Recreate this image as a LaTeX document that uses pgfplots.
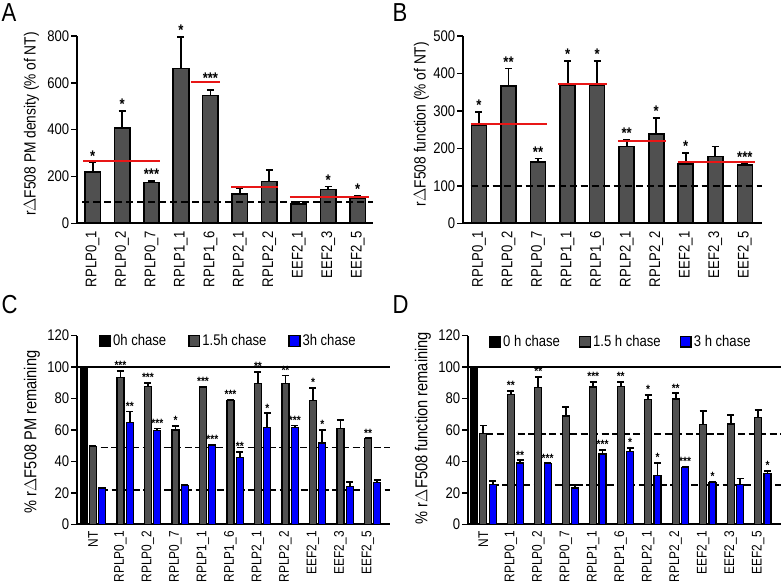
\documentclass[border=0pt]{standalone}
\usepackage{fontspec}
\setmainfont{Liberation Sans}[FakeStretch=0.85]
\usepackage{pgfplots}
\pgfplotsset{compat=1.18}
\usepackage{pgfplotstable}

\definecolor{barg}{RGB}{80,80,80}
\definecolor{barb}{RGB}{0,0,255}
\definecolor{redl}{RGB}{232,22,22}
\newcommand\fs{\fontsize{15.4bp}{18bp}\selectfont}
\newcommand\fsx{\fontsize{14bp}{16bp}\selectfont}
\newcommand\labA{\fontsize{16.2bp}{19bp}\selectfont}
\newcommand\labC{\fontsize{17.2bp}{20bp}\selectfont}
\newcommand\starA{\fontsize{15.4bp}{18bp}\selectfont\bfseries}
\newcommand\starC{\fontsize{12bp}{14bp}\selectfont\bfseries}

% Panel A
\pgfplotstableread{
x y e
0 218 42
1 408 72
2 175 7
3 662 134
4 545 24
5 125 25
6 179 49
7 83 10
8 145 12
9 107 11
}\dataA
\pgfplotstableread{
x y s
0 260 *
1 480 *
2 182 ***
3 796 *
4 592 ***
8 157 *
9 118 *
}\starsA
% Panel B
\pgfplotstableread{
x y e
0 262 35
1 367 46
2 163 10
3 368 65
4 369 64
5 205 17
6 239 43
7 158 30
8 178 27
9 156 4
}\dataB
\pgfplotstableread{
x y s
0 297 *
1 413 **
2 173 **
3 433 *
4 433 *
5 222 **
6 282 *
7 188 *
9 160 ***
}\starsB
% Panel C
\pgfplotstableread{
x y e
-0.34 100 0
}\blackC
\pgfplotstableread{
x y e
0 49.6 0.3
1 93.6 3.9
2 87.5 2.3
3 60.0 2.5
4 87.3 0.4
5 78.6 0.4
6 89.4 7.6
7 89.4 5.3
8 78.8 8.1
9 61.0 5.3
10 54.4 0.3
}\grayC
\pgfplotstableread{
x y e
0.34 23.1 0.3
1.34 64.6 7.2
2.34 59.7 1.3
3.34 24.8 0.4
4.34 50.4 0.4
5.34 42.4 3.8
6.34 61.7 8.9
7.34 61.4 1.5
8.34 51.7 8.3
9.34 23.9 3.0
10.34 26.5 1.5
}\blueC
\pgfplotstableread{
x y s
1 97.5 ***
2 89.8 ***
3 62.5 *
4 87.7 ***
5 79.0 ***
6 97.0 **
7 94.7 **
8 86.9 *
10 54.7 **
1.34 71.8 **
2.34 61.0 ***
4.34 50.8 ***
5.34 46.2 **
6.34 70.6 *
7.34 62.9 ***
8.34 60.0 *
}\starsC
% Panel D
\pgfplotstableread{
x y e
-0.34 100 0
}\blackD
\pgfplotstableread{
x y e
0 57.6 5.3
1 82.4 2.6
2 87.1 6.5
3 68.9 5.5
4 87.3 3.4
5 87.9 2.6
6 79.2 3.2
7 79.7 3.6
8 63.3 8.7
9 63.8 5.9
10 68.0 4.9
}\grayD
\pgfplotstableread{
x y e
0.34 25.4 1.9
1.34 39.0 1.7
2.34 38.6 0.2
3.34 23.1 2.1
4.34 44.7 2.5
5.34 46.2 2.3
6.34 30.9 8.1
7.34 36.2 0.5
8.34 26.5 0.4
9.34 25.2 4.0
10.34 32.4 1.5
}\blueD
\pgfplotstableread{
x y s
1 85.0 **
2 93.6 **
4 90.7 ***
5 90.5 **
6 82.4 *
7 83.3 **
1.34 40.7 **
2.34 38.8 ***
4.34 47.2 ***
5.34 48.5 *
6.34 39.0 *
7.34 36.7 ***
8.34 26.9 *
10.34 33.9 *
}\starsD

\pgfplotsset{
  panel/.style={
    scale only axis, axis x line*=bottom, axis y line*=left,
    axis line style={line width=1.8bp, -, black},
    tick align=outside, major tick length=6bp,
    ytick style={line width=1.5bp, black},
    xtick style={draw=none},
    tick label style={font=\fs},
    /pgf/number format/assume math mode=true,
    xticklabel style={rotate=90, anchor=east, inner sep=1.5bp},
    yticklabel style={inner sep=2bp},
    ymin=0, clip=false,
  },
  bars/.style={ybar, bar width=#1, bar shift=0pt, draw=black, line width=1.6bp},
  errs/.style={error bars/.cd, y dir=plus, y explicit,
    error bar style={line width=1.8bp, black},
    error mark options={rotate=90, mark size=3.5bp, line width=1.8bp, black}},
  sq/.style={legend image code/.code={\draw[##1, line width=1.4bp, draw=black] (0bp,-5.3bp) rectangle (10.7bp,5.3bp);}},
}

\begin{document}
\begin{tikzpicture}
\useasboundingbox (0,0) rectangle (782bp,586bp);
\node[font=\fontsize{26bp}{30bp}\selectfont, anchor=north west, inner sep=0pt] at (1.5bp,583bp) {A};
\node[font=\fontsize{26bp}{30bp}\selectfont, anchor=north west, inner sep=0pt] at (392.5bp,583bp) {B};
\node[font=\fontsize{26bp}{30bp}\selectfont, anchor=north west, inner sep=0pt] at (1.5bp,291bp) {C};
\node[font=\fontsize{26bp}{30bp}\selectfont, anchor=north west, inner sep=0pt] at (392.5bp,291bp) {D};

% ---------- A ----------
\begin{axis}[panel, at={(77.3bp,362.7bp)}, anchor=south west,
  width=295.7bp, height=187.3bp,
  xmin=-0.52, xmax=9.52, ymax=800, ytick={0,200,...,800},
  xtick={0,...,9},
  xticklabels={RPLP0\_1,RPLP0\_2,RPLP0\_7,RPLP1\_1,RPLP1\_6,RPLP2\_1,RPLP2\_2,EEF2\_1,EEF2\_3,EEF2\_5},
  ylabel={r$\Delta$F508 PM density (\% of NT)},
  ylabel style={font=\labA, at={(axis description cs:-0.155,0.53)}, anchor=center}]
\addplot[bars=15.5bp, fill=barg, errs] table[x=x,y=y,y error=e] {\dataA};
\addplot[black, line width=2bp, dash pattern=on 7bp off 4bp] coordinates {(-0.35,91) (9.52,91)};
\addplot[redl, line width=2bp] coordinates {(-0.32,268) (2.30,268)};
\addplot[redl, line width=2bp] coordinates {(3.34,604) (4.33,604)};
\addplot[redl, line width=2bp] coordinates {(4.70,154) (6.30,154)};
\addplot[redl, line width=2bp] coordinates {(6.70,114) (9.38,114)};
\addplot[draw=none, mark=none, nodes near coords, point meta=explicit symbolic,
  nodes near coords style={font=\starA, anchor=south, inner sep=1bp}]
  table[x=x,y=y,meta=s] {\starsA};
\end{axis}

% ---------- B ----------
\begin{axis}[panel, at={(463.3bp,362.7bp)}, anchor=south west,
  width=299bp, height=187.3bp,
  xmin=-0.53, xmax=9.59, ymax=500, ytick={0,100,...,500},
  xtick={0,...,9},
  xticklabels={RPLP0\_1,RPLP0\_2,RPLP0\_7,RPLP1\_1,RPLP1\_6,RPLP2\_1,RPLP2\_2,EEF2\_1,EEF2\_3,EEF2\_5},
  ylabel={r$\Delta$F508 function (\% of NT)},
  ylabel style={font=\labA, at={(axis description cs:-0.14,0.53)}, anchor=center}]
\addplot[bars=15bp, fill=barg, errs] table[x=x,y=y,y error=e] {\dataB};
\addplot[black, line width=2bp, dash pattern=on 7bp off 4bp] coordinates {(-0.28,100) (9.59,100)};
\addplot[redl, line width=2bp] coordinates {(-0.28,265) (2.29,265)};
\addplot[redl, line width=2bp] coordinates {(2.69,371) (4.33,371)};
\addplot[redl, line width=2bp] coordinates {(4.70,221) (6.34,221)};
\addplot[redl, line width=2bp] coordinates {(6.73,164) (9.33,164)};
\addplot[draw=none, mark=none, nodes near coords, point meta=explicit symbolic,
  nodes near coords style={font=\starA, anchor=south, inner sep=1bp}]
  table[x=x,y=y,meta=s] {\starsB};
\end{axis}

% ---------- C ----------
\begin{axis}[panel, at={(77.3bp,61.7bp)}, anchor=south west,
  width=312.7bp, height=188.6bp,
  xmin=-0.57, xmax=10.8, ymax=120, ytick={0,20,...,120},
  xtick={0,...,10},
  xticklabel style={font=\fsx, inner sep=0.8bp},
  xticklabels={NT,RPLP0\_1,RPLP0\_2,RPLP0\_7,RPLP1\_1,RPLP1\_6,RPLP2\_1,RPLP2\_2,EEF2\_1,EEF2\_3,EEF2\_5},
  ylabel={\% r$\Delta$F508 PM remaining},
  ylabel style={font=\labC, at={(axis description cs:-0.145,0.49)}, anchor=center},
  legend style={at={(0.069,0.972)}, anchor=west, draw=none, fill=none, inner sep=0pt,
    font=\fs, /tikz/every even column/.append style={column sep=20bp}},
  legend columns=3, legend cell align=left]
\addplot[black, line width=1.6bp, dash pattern=on 7bp off 3.5bp, forget plot] coordinates {(-0.1,48.9) (10.8,48.9)};
\addplot[black, line width=1.6bp, dash pattern=on 7bp off 3.5bp, forget plot] coordinates {(0.3,22.0) (10.8,22.0)};
\addplot[black, line width=1.6bp, forget plot] coordinates {(-0.57,100) (10.8,100)};
\addplot[bars=7bp, fill=black, line width=1.2bp, sq] table[x=x,y=y] {\blackC};
\addlegendentry{0h chase}
\addplot[bars=7bp, fill=barg, line width=1.2bp, sq, errs] table[x=x,y=y,y error=e] {\grayC};
\addlegendentry{1.5h chase}
\addplot[bars=7bp, fill=barb, line width=1.2bp, sq, errs] table[x=x,y=y,y error=e] {\blueC};
\addlegendentry{3h chase}
\addplot[draw=none, mark=none, forget plot, nodes near coords, point meta=explicit symbolic,
  nodes near coords style={font=\starC, anchor=south, inner sep=1bp}]
  table[x=x,y=y,meta=s] {\starsC};
\end{axis}

% ---------- D ----------
\begin{axis}[panel, at={(468.3bp,61.7bp)}, anchor=south west,
  width=312.7bp, height=188.6bp,
  xmin=-0.545, xmax=10.83, ymax=120, ytick={0,20,...,120},
  xtick={0,...,10},
  xticklabel style={font=\fsx, inner sep=0.8bp},
  xticklabels={NT,RPLP0\_1,RPLP0\_2,RPLP0\_7,RPLP1\_1,RPLP1\_6,RPLP2\_1,RPLP2\_2,EEF2\_1,EEF2\_3,EEF2\_5},
  ylabel={\% r$\Delta$F508 function remaining},
  ylabel style={font=\labC, at={(axis description cs:-0.145,0.51)}, anchor=center},
  legend style={at={(0.066,0.968)}, anchor=west, draw=none, fill=none, inner sep=0pt,
    font=\fs, /tikz/every even column/.append style={column sep=17bp}},
  legend columns=3, legend cell align=left]
\addplot[black, line width=1.6bp, dash pattern=on 7bp off 3.5bp, forget plot] coordinates {(0.1,57.4) (10.83,57.4)};
\addplot[black, line width=1.6bp, dash pattern=on 7bp off 3.5bp, forget plot] coordinates {(0.3,25.0) (10.83,25.0)};
\addplot[black, line width=1.6bp, forget plot] coordinates {(-0.545,100) (10.83,100)};
\addplot[bars=7bp, fill=black, line width=1.2bp, sq] table[x=x,y=y] {\blackD};
\addlegendentry{0 h chase}
\addplot[bars=7bp, fill=barg, line width=1.2bp, sq, errs] table[x=x,y=y,y error=e] {\grayD};
\addlegendentry{1.5 h chase}
\addplot[bars=7bp, fill=barb, line width=1.2bp, sq, errs] table[x=x,y=y,y error=e] {\blueD};
\addlegendentry{3 h chase}
\addplot[draw=none, mark=none, forget plot, nodes near coords, point meta=explicit symbolic,
  nodes near coords style={font=\starC, anchor=south, inner sep=1bp}]
  table[x=x,y=y,meta=s] {\starsD};
\end{axis}
\end{tikzpicture}
\end{document}
